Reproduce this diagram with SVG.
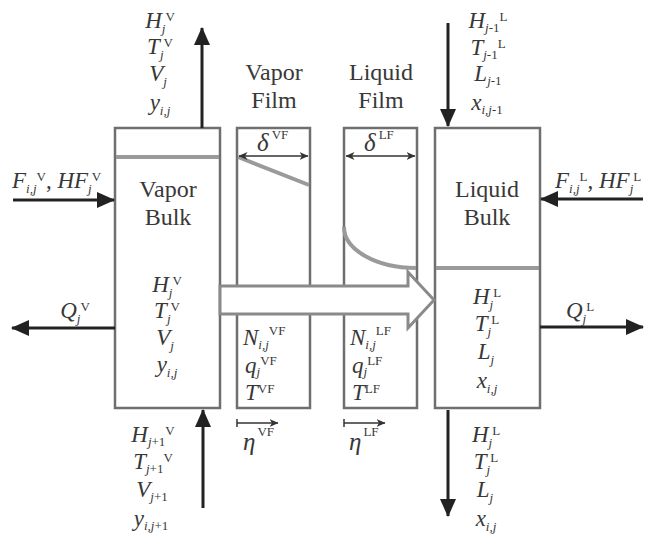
<svg xmlns="http://www.w3.org/2000/svg" width="647" height="537" viewBox="0 0 647 537" font-family="'Liberation Serif', 'Times New Roman', serif">
<style>
.t{font-family:'Liberation Serif','Times New Roman',serif;font-size:23px;fill:#383838}
.w{font-size:24px}
.i{font-style:italic}
.s{font-size:13px;font-style:italic}
.u{font-size:13px;font-style:normal}
.box{fill:none;stroke:#6f6f6f;stroke-width:2.5}
.iface{fill:none;stroke:#9a9a9a;stroke-width:4}
.flow{stroke:#222;stroke-width:3;fill:none;marker-end:url(#big)}
.dim{stroke:#333;stroke-width:1.5;fill:none}
</style>
<defs>
<marker id="big" markerUnits="userSpaceOnUse" markerWidth="18" markerHeight="16" refX="17" refY="8" orient="auto"><path d="M0,0 L18,8 L0,16 z" fill="#222"/></marker>
<marker id="sm" markerUnits="userSpaceOnUse" markerWidth="9" markerHeight="8" refX="8.5" refY="4" orient="auto-start-reverse"><path d="M0,0 L9,4 L0,8 L2.5,4 z" fill="#333"/></marker>
</defs>

<g id="vapor-bulk">
<rect class="box" x="115" y="128" width="105" height="280"/>
<line class="iface" x1="116" y1="157" x2="219" y2="157"/>
<text class="t w" x="168" y="197" text-anchor="middle">Vapor</text>
<text class="t w" x="168" y="225" text-anchor="middle">Bulk</text>
<text class="t" x="167" y="292" text-anchor="middle"><tspan class="i">H</tspan><tspan class="s" dy="5">j</tspan><tspan class="u" dy="-12">V</tspan></text>
<text class="t" x="167" y="318" text-anchor="middle"><tspan class="i">T</tspan><tspan class="s" dy="5">j</tspan><tspan class="u" dy="-12">V</tspan></text>
<text class="t" x="165" y="345" text-anchor="middle"><tspan class="i">V</tspan><tspan class="s" dy="5">j</tspan></text>
<text class="t" x="167" y="372" text-anchor="middle"><tspan class="i">y</tspan><tspan class="s" dy="5">i,j</tspan></text>
</g>

<g id="vapor-film">
<rect class="box" x="237" y="128" width="73" height="280"/>
<line class="iface" x1="238" y1="157" x2="309" y2="185" stroke-width="3.5"/>
<line class="dim" x1="239" y1="156" x2="308" y2="156" marker-start="url(#sm)" marker-end="url(#sm)"/>
<text class="t" x="257" y="151"><tspan class="i" font-size="25">δ</tspan><tspan class="u" font-size="11" dy="-12" dx="3">VF</tspan></text>
<text class="t w" x="274" y="80" text-anchor="middle">Vapor</text>
<text class="t w" x="274" y="108" text-anchor="middle">Film</text>
<text class="t" x="243" y="345"><tspan class="i">N</tspan><tspan class="s" dy="4">i,j</tspan><tspan class="u" dy="-14">VF</tspan></text>
<text class="t" x="245" y="373"><tspan class="i">q</tspan><tspan class="s" dy="3">j</tspan><tspan class="u" dy="-11">VF</tspan></text>
<text class="t" x="245" y="400"><tspan class="i">T</tspan><tspan class="u" dy="-7">VF</tspan></text>
</g>

<g id="liquid-film">
<rect class="box" x="344" y="128" width="73" height="280"/>
<path class="iface" d="M344,227 A72,41 0 0 0 416,268" stroke-width="3.5"/>
<line class="dim" x1="346" y1="156" x2="415" y2="156" marker-start="url(#sm)" marker-end="url(#sm)"/>
<text class="t" x="364" y="151"><tspan class="i" font-size="25">δ</tspan><tspan class="u" font-size="11" dy="-12" dx="3">LF</tspan></text>
<text class="t w" x="381" y="80" text-anchor="middle">Liquid</text>
<text class="t w" x="381" y="108" text-anchor="middle">Film</text>
<text class="t" x="350" y="345"><tspan class="i">N</tspan><tspan class="s" dy="4">i,j</tspan><tspan class="u" dy="-14">LF</tspan></text>
<text class="t" x="352" y="373"><tspan class="i">q</tspan><tspan class="s" dy="3">j</tspan><tspan class="u" dy="-11">LF</tspan></text>
<text class="t" x="352" y="400"><tspan class="i">T</tspan><tspan class="u" dy="-7">LF</tspan></text>
</g>

<g id="liquid-bulk">
<rect class="box" x="435" y="128" width="105" height="280"/>
<line class="iface" x1="436" y1="268" x2="539" y2="268"/>
<text class="t w" x="487" y="197" text-anchor="middle">Liquid</text>
<text class="t w" x="487" y="225" text-anchor="middle">Bulk</text>
<text class="t" x="487" y="304" text-anchor="middle"><tspan class="i">H</tspan><tspan class="s" dy="5">j</tspan><tspan class="u" dy="-12">L</tspan></text>
<text class="t" x="487" y="331" text-anchor="middle"><tspan class="i">T</tspan><tspan class="s" dy="5">j</tspan><tspan class="u" dy="-12">L</tspan></text>
<text class="t" x="486" y="359" text-anchor="middle"><tspan class="i">L</tspan><tspan class="s" dy="5">j</tspan></text>
<text class="t" x="487" y="388" text-anchor="middle"><tspan class="i">x</tspan><tspan class="s" dy="5">i,j</tspan></text>
</g>

<g id="transfer-arrow">
<polygon points="220,286 408,286 408,272 434,300 408,328 408,314 220,314" fill="#fff" stroke="#8a8a8a" stroke-width="3" stroke-linejoin="miter"/>
</g>

<g id="connectors">
<line class="flow" x1="202" y1="128" x2="202" y2="28"/>
<line class="flow" x1="448" y1="23" x2="448" y2="126"/>
<line class="flow" x1="203" y1="508" x2="203" y2="410"/>
<line class="flow" x1="448" y1="410" x2="448" y2="516"/>
<line class="flow" x1="13" y1="200" x2="114" y2="200"/>
<line class="flow" x1="643" y1="199" x2="541" y2="199"/>
<line class="flow" x1="115" y1="328" x2="12" y2="328"/>
<line class="flow" x1="540" y1="327" x2="643" y2="327"/>
<line class="dim" x1="237" y1="423" x2="278" y2="423" marker-end="url(#sm)"/>
<line class="dim" x1="237" y1="419" x2="237" y2="427"/>
<line class="dim" x1="344" y1="423" x2="385" y2="423" marker-end="url(#sm)"/>
<line class="dim" x1="344" y1="419" x2="344" y2="427"/>
</g>

<g id="labels">
<text class="t" x="160" y="28" text-anchor="middle"><tspan class="i">H</tspan><tspan class="s" dy="5">j</tspan><tspan class="u" dy="-12">V</tspan></text>
<text class="t" x="160" y="54" text-anchor="middle"><tspan class="i">T</tspan><tspan class="s" dy="5">j</tspan><tspan class="u" dy="-12">V</tspan></text>
<text class="t" x="158" y="81" text-anchor="middle"><tspan class="i">V</tspan><tspan class="s" dy="5">j</tspan></text>
<text class="t" x="160" y="110" text-anchor="middle"><tspan class="i">y</tspan><tspan class="s" dy="5">i,j</tspan></text>

<text class="t" x="488" y="28" text-anchor="middle"><tspan class="i">H</tspan><tspan class="s" dy="4">j</tspan><tspan class="u">-1</tspan><tspan class="u" dy="-11">L</tspan></text>
<text class="t" x="488" y="55" text-anchor="middle"><tspan class="i">T</tspan><tspan class="s" dy="4">j</tspan><tspan class="u">-1</tspan><tspan class="u" dy="-11">L</tspan></text>
<text class="t" x="488" y="81" text-anchor="middle"><tspan class="i">L</tspan><tspan class="s" dy="4">j</tspan><tspan class="u">-1</tspan></text>
<text class="t" x="487" y="110" text-anchor="middle"><tspan class="i">x</tspan><tspan class="s" dy="4">i,j</tspan><tspan class="u">-1</tspan></text>

<text class="t" x="153" y="442" text-anchor="middle"><tspan class="i">H</tspan><tspan class="s" dy="4">j</tspan><tspan class="u">+1</tspan><tspan class="u" dy="-11">V</tspan></text>
<text class="t" x="153" y="469" text-anchor="middle"><tspan class="i">T</tspan><tspan class="s" dy="4">j</tspan><tspan class="u">+1</tspan><tspan class="u" dy="-11">V</tspan></text>
<text class="t" x="152" y="497" text-anchor="middle"><tspan class="i">V</tspan><tspan class="s" dy="4">j</tspan><tspan class="u">+1</tspan></text>
<text class="t" x="151" y="526" text-anchor="middle"><tspan class="i">y</tspan><tspan class="s" dy="4">i,j</tspan><tspan class="u">+1</tspan></text>

<text class="t" x="486" y="442" text-anchor="middle"><tspan class="i">H</tspan><tspan class="s" dy="5">j</tspan><tspan class="u" dy="-12">L</tspan></text>
<text class="t" x="486" y="469" text-anchor="middle"><tspan class="i">T</tspan><tspan class="s" dy="5">j</tspan><tspan class="u" dy="-12">L</tspan></text>
<text class="t" x="485" y="497" text-anchor="middle"><tspan class="i">L</tspan><tspan class="s" dy="5">j</tspan></text>
<text class="t" x="486" y="526" text-anchor="middle"><tspan class="i">x</tspan><tspan class="s" dy="5">i,j</tspan></text>

<text class="t" x="12" y="188"><tspan class="i">F</tspan><tspan class="s" dy="5">i,j</tspan><tspan class="u" dy="-12">V</tspan><tspan dy="7">, </tspan><tspan class="i">HF</tspan><tspan class="s" dy="5">j</tspan><tspan class="u" dy="-12">V</tspan></text>
<text class="t" x="555" y="188"><tspan class="i">F</tspan><tspan class="s" dy="5">i,j</tspan><tspan class="u" dy="-12">L</tspan><tspan dy="7">, </tspan><tspan class="i">HF</tspan><tspan class="s" dy="5">j</tspan><tspan class="u" dy="-12">L</tspan></text>

<text class="t" x="75" y="318" text-anchor="middle"><tspan class="i">Q</tspan><tspan class="s" dy="5">j</tspan><tspan class="u" dy="-12">V</tspan></text>
<text class="t" x="580" y="318" text-anchor="middle"><tspan class="i">Q</tspan><tspan class="s" dy="5">j</tspan><tspan class="u" dy="-12">L</tspan></text>

<text class="t" x="243" y="450"><tspan class="i" font-size="25">η</tspan><tspan class="u" font-size="11" dy="-14" dx="2">VF</tspan></text>
<text class="t" x="349" y="450"><tspan class="i" font-size="25">η</tspan><tspan class="u" font-size="11" dy="-14" dx="2">LF</tspan></text>
</g>
</svg>
